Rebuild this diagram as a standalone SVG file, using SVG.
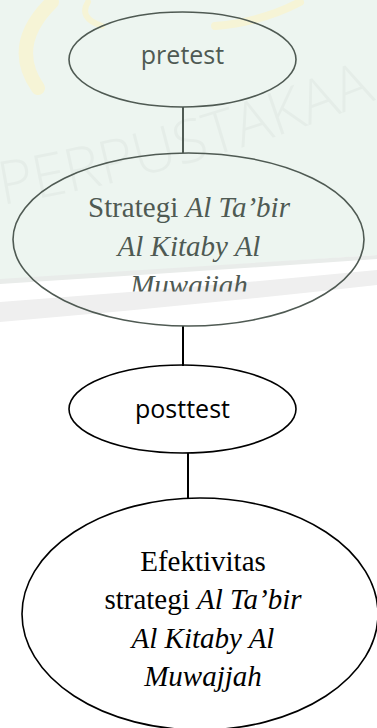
<svg xmlns="http://www.w3.org/2000/svg" width="377" height="728" viewBox="0 0 377 728">
<style>
.node ellipse{fill:none;stroke-width:1.6}
.top ellipse{stroke:#4f5a53}
.bot ellipse{stroke:#000}
.sans{font-family:"Open Sans","Liberation Sans",sans-serif;font-size:25px;text-anchor:middle}
.serif{font-family:"Liberation Serif","Times New Roman",serif;font-size:29px;text-anchor:middle}
.it{font-style:italic}
#connectors line{stroke-width:2}
.yel{fill:none;stroke:#f6f4d6;stroke-linecap:round}
</style>
<defs>
<clipPath id="clipM"><rect x="0" y="0" width="377" height="291.5"/></clipPath>
<path id="wmArc" d="M 2,205 Q 200,172 395,92"/>
</defs>
<g id="watermark">
<rect x="0" y="0" width="377" height="728" fill="#ffffff"/>
<path d="M0,0 H377 V255 Q190,268 0,280 Z" fill="#edf5f0"/>
<path d="M0,279 Q190,267 377,255 V259 Q190,272 0,284 Z" fill="#e9ecea"/>
<path d="M0,302 Q190,288 377,270 V285 Q190,306 0,322 Z" fill="#efefef"/>
<path class="yel" d="M52,2 Q8,45 38,88" stroke-width="14"/>
<path class="yel" d="M88,2 Q78,18 102,26" stroke-width="6"/>
<path class="yel" d="M215,26 Q262,22 300,2" stroke-width="8"/>
<text font-family="Open Sans, Liberation Sans, sans-serif" font-size="60" font-weight="300" fill="#e5ede8"><textPath href="#wmArc">PERPUSTAKAAN</textPath></text>
</g>
<g id="connectors">
<line x1="183" y1="107" x2="183" y2="153" stroke="#4f5a53"/>
<line x1="183" y1="326" x2="183" y2="366" stroke="#000"/>
<line x1="188" y1="453" x2="188" y2="499" stroke="#000"/>
</g>
<g id="pretest" class="node top">
<ellipse cx="182.5" cy="59.5" rx="113.5" ry="47.5"/>
<text class="sans" x="182.5" y="64" fill="#4f5a53">pretest</text>
</g>
<g id="strategi" class="node top">
<ellipse cx="188.5" cy="239.5" rx="175.5" ry="86.5"/>
<text class="serif" x="189" y="217" fill="#4f5a53">Strategi <tspan class="it">Al Ta’bir</tspan></text>
<text class="serif it" x="189" y="256" fill="#4f5a53">Al Kitaby Al</text>
<text class="serif it" x="189" y="295" fill="#4f5a53" clip-path="url(#clipM)">Muwajjah</text>
</g>
<g id="posttest" class="node bot">
<ellipse cx="182.5" cy="409" rx="113.5" ry="44"/>
<text class="sans" x="182.5" y="418" fill="#000">posttest</text>
</g>
<g id="efektivitas" class="node bot">
<ellipse cx="200" cy="614" rx="178" ry="116"/>
<text class="serif" x="203" y="571" fill="#000">Efektivitas</text>
<text class="serif" x="203" y="609" fill="#000">strategi <tspan class="it">Al Ta’bir</tspan></text>
<text class="serif it" x="203" y="648" fill="#000">Al Kitaby Al</text>
<text class="serif it" x="203" y="686" fill="#000">Muwajjah</text>
</g>
</svg>
